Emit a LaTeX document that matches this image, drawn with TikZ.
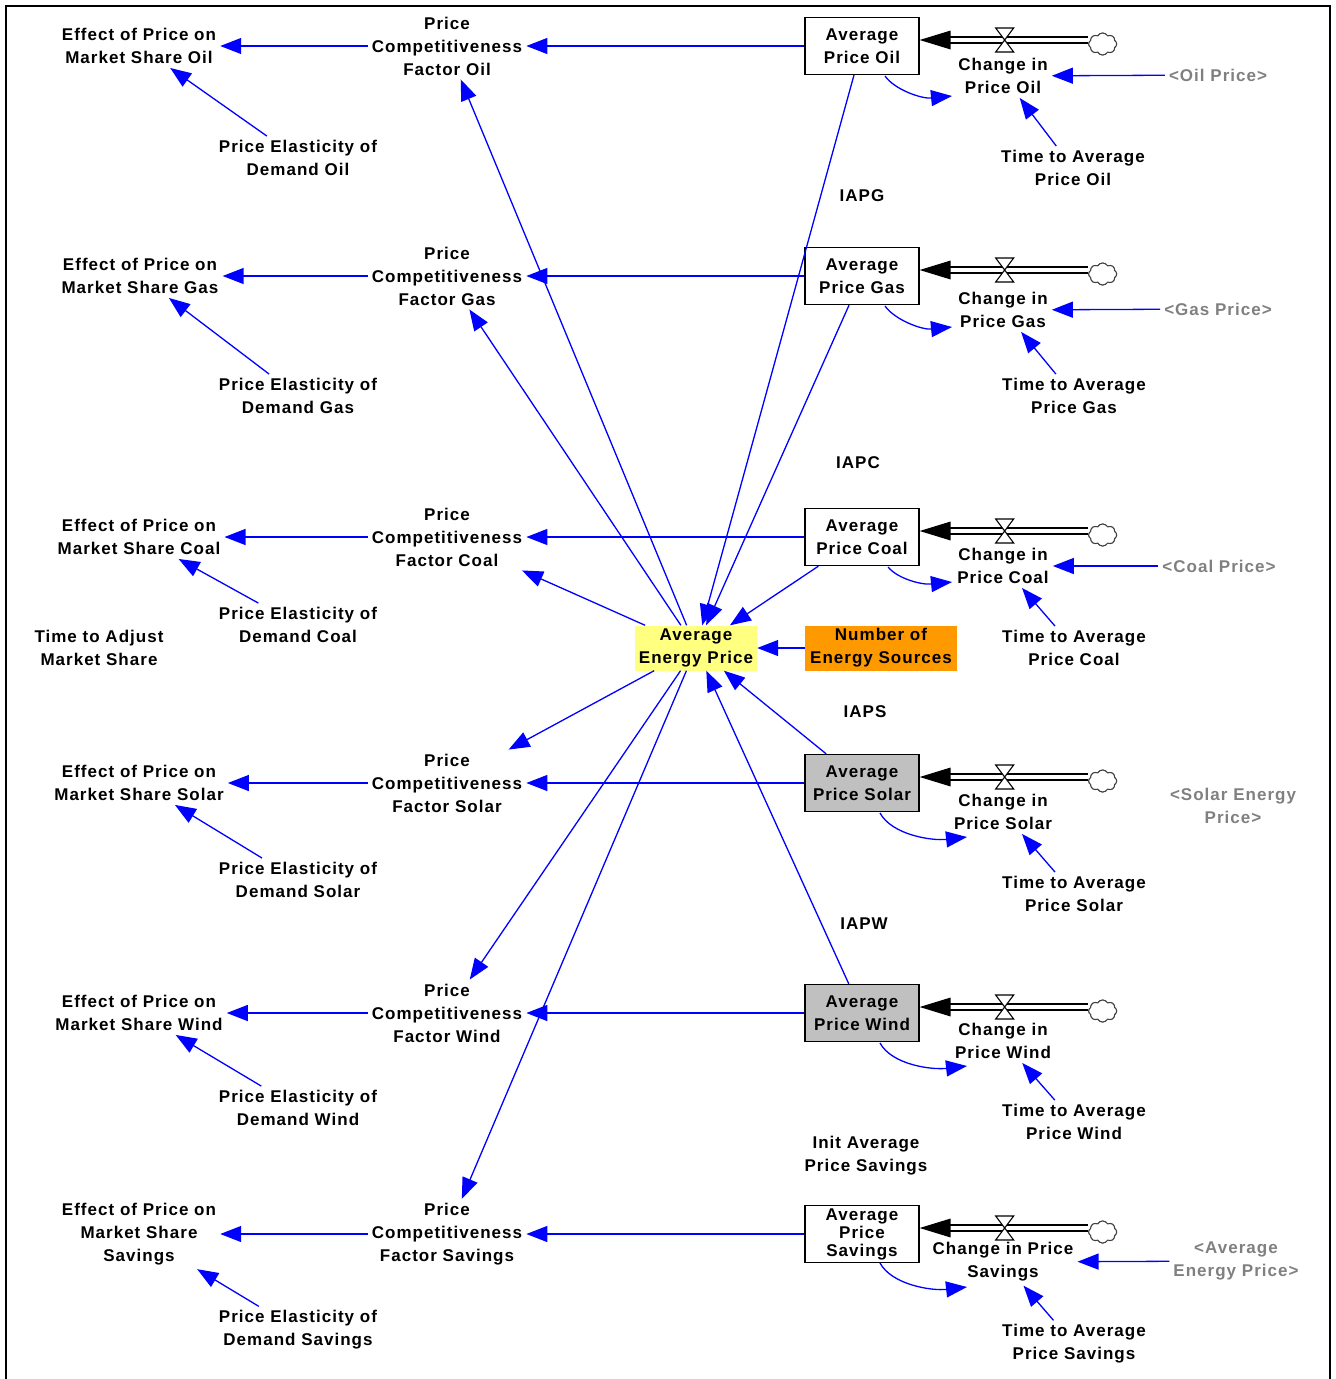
\documentclass[tikz,border=0pt]{standalone}
\usepackage{fontspec}
\setmainfont{Liberation Sans}
\newfontfamily\vsfont{Liberation Sans}[LetterSpace=6]
\usetikzlibrary{arrows.meta,calc,shapes.symbols}
\definecolor{linkblue}{RGB}{0,0,255}
\definecolor{shadowgray}{RGB}{128,128,128}
\definecolor{aepyellow}{RGB}{255,255,128}
\definecolor{nesorange}{RGB}{255,153,0}
\definecolor{stockgray}{RGB}{192,192,192}

\begin{document}
\begin{tikzpicture}[x=1pt,y=-1pt,
  every node/.style={font=\vsfont\bfseries\fontsize{17}{23}\selectfont},
  var/.style={align=center, inner sep=4pt},
  ghost/.style={var, text=shadowgray},
  stock/.style={draw, line width=1.3pt, minimum width=114pt, minimum height=57pt,
                inner sep=0pt, align=center},
  aux/.style={minimum width=#1, minimum height=45pt, inner sep=0pt, align=center},
  conn/.style={linkblue, line width=1.3pt, -{Triangle[length=21pt,width=16pt]}},
  pipe/.style={double, double distance=4.5pt, line width=1.3pt},
  sink/.style={cloud, cloud puffs=8, cloud puff arc=120, draw=black!75, line width=1pt,
               fill=white, minimum width=28pt, minimum height=22pt, inner sep=0pt, aspect=1.3},
  valve/.pic={\draw[line width=1.1pt, fill=white] (-9,-12) -- (9,-12) -- (-9,12) -- (9,12) -- cycle;}
]
\useasboundingbox (0,0) rectangle (1336,1379);

% frame
\draw[line width=2pt] (6,1379) -- (6,6) -- (1330,6) -- (1330,1379);

% ---- left column: effects of price on market share
\node[var] (effo) at (139,46)   {Effect of Price on\\Market Share Oil};
\node[var] (effg) at (140,276)  {Effect of Price on\\Market Share Gas};
\node[var] (effc) at (139,537)  {Effect of Price on\\Market Share Coal};
\node[var] (effs) at (139,783)  {Effect of Price on\\Market Share Solar};
\node[var] (effw) at (139,1013) {Effect of Price on\\Market Share Wind};
\node[var] (effv) at (139,1234) {Effect of Price on\\Market Share\\Savings};
\node[var] (tam)  at (99,648)   {Time to Adjust\\Market Share};

% ---- price elasticities
\node[var] (elao) at (298,158)  {Price Elasticity of\\Demand Oil};
\node[var] (elag) at (298,396)  {Price Elasticity of\\Demand Gas};
\node[var] (elac) at (298,625)  {Price Elasticity of\\Demand Coal};
\node[var] (elas) at (298,880)  {Price Elasticity of\\Demand Solar};
\node[var] (elaw) at (298,1108) {Price Elasticity of\\Demand Wind};
\node[var] (elav) at (298,1330) {Price Elasticity of\\Demand Savings};

% ---- competitiveness factors
\node[var] (pcfo) at (447,46)   {Price\\Competitiveness\\Factor Oil};
\node[var] (pcfg) at (447,276)  {Price\\Competitiveness\\Factor Gas};
\node[var] (pcfc) at (447,537)  {Price\\Competitiveness\\Factor Coal};
\node[var] (pcfs) at (447,783)  {Price\\Competitiveness\\Factor Solar};
\node[var] (pcfw) at (447,1013) {Price\\Competitiveness\\Factor Wind};
\node[var] (pcfv) at (447,1234) {Price\\Competitiveness\\Factor Savings};

% ---- average energy price and number of sources
\node[aux=122pt, fill=aepyellow] (aep) at (696,648) {Average\\Energy Price};
\node[aux=152pt, fill=nesorange] (nes) at (881,648) {Number of\\Energy Sources};

% ---- stocks
\node[stock] (apo) at (862,46)   {Average\\Price Oil};
\node[stock] (apg) at (862,276)  {Average\\Price Gas};
\node[stock] (apc) at (862,537)  {Average\\Price Coal};
\node[stock, fill=stockgray] (aps) at (862,783)  {Average\\Price Solar};
\node[stock, fill=stockgray] (apw) at (862,1013) {Average\\Price Wind};
\node[stock, font=\vsfont\bfseries\fontsize{17}{18}\selectfont] (apv) at (862,1234) {Average\\Price\\Savings};

% ---- flows
\node[var] (cpo) at (1003,76)   {Change in\\Price Oil};
\node[var] (cpg) at (1003,310)  {Change in\\Price Gas};
\node[var] (cpc) at (1003,566)  {Change in\\Price Coal};
\node[var] (cps) at (1003,812)  {Change in\\Price Solar};
\node[var] (cpw) at (1003,1041) {Change in\\Price Wind};
\node[var] (cpv) at (1003,1262) {Change in Price\\Savings};

% ---- averaging times
\node[var] (tto) at (1073,168)  {Time to Average\\Price Oil};
\node[var] (ttg) at (1074,396)  {Time to Average\\Price Gas};
\node[var] (ttc) at (1074,648)  {Time to Average\\Price Coal};
\node[var] (tts) at (1074,894)  {Time to Average\\Price Solar};
\node[var] (ttw) at (1074,1122) {Time to Average\\Price Wind};
\node[var] (ttv) at (1074,1344) {Time to Average\\Price Savings};

% ---- shadow variables
\node[ghost] (sho) at (1218,75)   {<Oil Price>};
\node[ghost] (shg) at (1218,309)  {<Gas Price>};
\node[ghost] (shc) at (1219,566)  {<Coal Price>};
\node[ghost] (shs) at (1233,806)  {<Solar Energy\\Price>};
\node[ghost] (shv) at (1236,1261) {<Average\\Energy Price>};

% ---- initial values
\node[var] (iapg) at (862,196)  {IAPG};
\node[var] (iapc) at (858,463)  {IAPC};
\node[var] (iaps) at (865,712)  {IAPS};
\node[var] (iapw) at (864,924)  {IAPW};
\node[var] (iapv) at (866,1156) {Init Average\\Price Savings};

% ---- pipes, valves and clouds of the stock inflows
\foreach \k in {o,g,c,s,w,v} {
  \coordinate (fl\k) at ($(ap\k.east)+(0,-6)$);
  \node[sink] (cl\k) at ($(fl\k)+(183,4)$) {};
  \draw[pipe] ($(fl\k)+(30,0)$) -- (cl\k.west |- fl\k);
  \node[sink] at (cl\k) {};
  \fill (fl\k) -- ++(31,-9.5) -- ++(0,19) -- cycle;
  \pic at ($(fl\k)+(85,0)$) {valve};
}

% ---- links along each row
\foreach \k in {o,g,c,s,w,v} {
  \draw[conn] (pcf\k) -- (eff\k);
  \draw[conn] (ela\k) -- (eff\k);
  \draw[conn] (ap\k) -- (pcf\k);
  \draw[conn] (aep) -- (pcf\k);
  \draw[conn] (tt\k) -- (cp\k);
}
\foreach \k in {o,g,c,s,w} {
  \draw[conn] (ap\k) -- (aep);
}
\draw[conn] (sho) -- (cpo);
\draw[conn] (shg) -- (cpg);
\draw[conn] (shc) -- (cpc);
\draw[conn] (shv) -- (cpv);
\draw[conn] (nes) -- (aep);

% ---- stock to flow feedback links
\draw[conn] ($(apo.center)+(23,30)$) .. controls +(10,14) and +(-30,3) .. ($(cpo.center)+(-51,20)$);
\draw[conn] ($(apg.center)+(23,30)$) .. controls +(10,14) and +(-30,3) .. ($(cpg.center)+(-51,17)$);
\draw[conn] ($(apc.center)+(26,30)$) .. controls +(10,12) and +(-30,3) .. ($(cpc.center)+(-51,16)$);
\draw[conn] ($(aps.center)+(18,30)$) .. controls +(12,22) and +(-35,4) .. ($(cps.center)+(-36,25)$);
\draw[conn] ($(apw.center)+(18,30)$) .. controls +(12,22) and +(-35,4) .. ($(cpw.center)+(-36,25)$);
\draw[conn] ($(apv.center)+(18,29)$) .. controls +(12,22) and +(-35,4) .. ($(cpv.center)+(-36,25)$);
\end{tikzpicture}
\end{document}
